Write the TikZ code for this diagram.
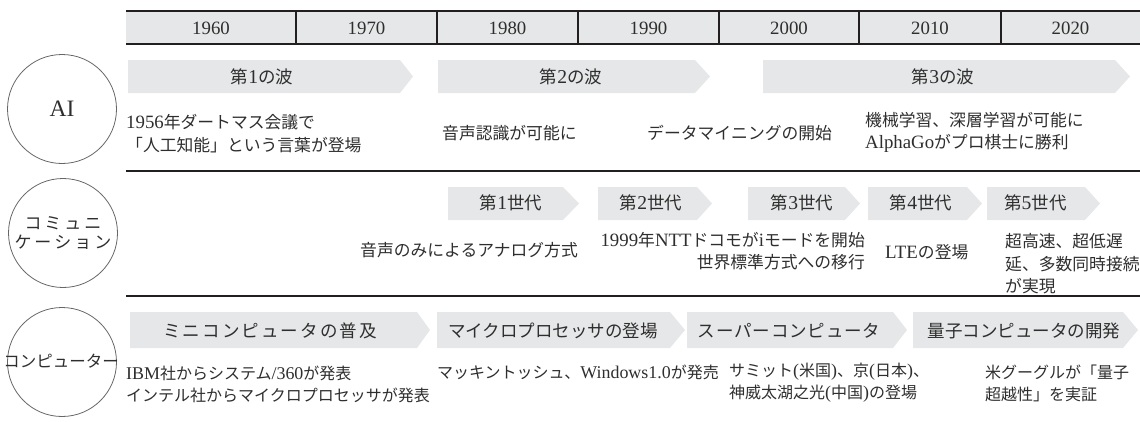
\documentclass[tikz,border=0pt]{standalone}
\usepackage{fontspec}
\setmainfont{Noto Sans CJK JP}
\newfontfamily\latf{Liberation Serif}[Scale=1.12]
\newcommand\lt[1]{{\latf #1}}
\definecolor{band}{HTML}{E6E7E8}
\definecolor{ink}{HTML}{2E2E2E}
\definecolor{rulec}{HTML}{231F20}
\newcommand\sig[5]{\fill[band] (#1,#4) -- (#2,#4) -- (#3,{(#4+#5)/2}) -- (#2,#5) -- (#1,#5) -- cycle;}
\newcommand\kk{\kern3pt}
\newcommand\ks{\kern2.1pt}
\begin{document}
\begin{tikzpicture}[x=1pt,y=-1pt,
  every node/.style={inner sep=0pt, text=ink},
  body/.style={font=\fontsize{16.8}{22.5}\selectfont, align=left},
  bodyc/.style={font=\fontsize{16}{22}\selectfont, align=left},
  lab/.style={font=\fontsize{17.5}{21}\selectfont},
  year/.style={font=\latf\fontsize{16.8}{20}\selectfont},
  circ/.style={circle, draw=black!60, line width=0.8pt, minimum size=109pt},
  thick rule/.style={draw=rulec, line width=2pt},
  thin rule/.style={draw=rulec, line width=1.4pt}]
\useasboundingbox (0,0) rectangle (1140,421);
% header band
\fill[band] (126,11) rectangle (1140,44);
\path[thick rule] (126,11) -- (1140,11);
\path[thick rule] (126,44) -- (1140,44);
\foreach \x in {296,437,578,719,859,1001} \path[thin rule] (\x,11) -- (\x,44);
\foreach \x/\t [count=\i] in {211/1960,366.5/1970,507.5/1980,648.5/1990,789/2000,930/2010,1070.5/2020}
  \node[year] (yr\i) at (\x,28) {\t};
% row separators
\path[thick rule] (126,171) -- (1140,171);
\path[thick rule] (126,296) -- (1140,296);
% circles
\node[circ] (ai) at (62,109) {};
\node[circ] (com) at (63,233) {};
\node[circ] (cmp) at (62,362) {};
\node[font=\latf\fontsize{21}{24}\selectfont] (aiT) at (ai.center) {AI};
\node[font=\fontsize{17}{19}\selectfont, align=center] (comT) at (com.center)
  {コ\kk ミ\kk ュ\kk ニ\\ケ\kk ー\kk シ\kk ョ\kk ン};
\node[font=\fontsize{16.5}{20}\selectfont] (cmpT) at (61,361) {コンピューター};
% AI arrows
\sig{128}{400}{413}{60}{93}
\sig{438}{695}{710}{60}{93}
\sig{763}{1115}{1130}{60}{93}
\node[lab] (w1) at (262,77) {第\lt{1}の波};
\node[lab] (w2) at (571,77) {第\lt{2}の波};
\node[lab] (w3) at (943,77) {第\lt{3}の波};
% communication arrows
\sig{448}{563}{579}{187}{220}
\sig{598}{697}{712}{187}{220}
\sig{748}{845}{860}{187}{220}
\sig{868}{967}{982}{187}{220}
\sig{987}{1085}{1100}{187}{220}
\node[lab] (g1) at (511,203) {第\lt{1}世代};
\node[lab] (g2) at (651,203) {第\lt{2}世代};
\node[lab] (g3) at (802,203) {第\lt{3}世代};
\node[lab] (g4) at (921,203) {第\lt{4}世代};
\node[lab, anchor=west] (g5) at (1004,203) {第\lt{5}世代};
% computer arrows
\sig{130}{417}{430}{312}{348}
\sig{437}{670}{685}{312}{348}
\sig{687}{893}{907}{312}{348}
\sig{913}{1123}{1138}{312}{348}
\node[lab] (k1) at (270,331) {ミ\ks ニ\ks コ\ks ン\ks ピ\ks ュ\ks ー\ks タ\ks の\ks 普\ks 及};
\node[lab] (k2) at (553,331) {マイクロプロセッサの登場};
\node[lab] (k3) at (789,331) {ス\kern0.8pt ー\kern0.8pt パ\kern0.8pt ー\kern0.8pt コ\kern0.8pt ン\kern0.8pt ピ\kern0.8pt ュ\kern0.8pt ー\kern0.8pt タ};
\node[lab] (k4) at (1024,331) {量子コンピュータの開発};
% AI texts
\node[body, anchor=west] (a1) at (126,133.5) {\lt{1956}年ダートマス会議で\\「人工知能」という言葉が登場};
\node[body, anchor=west] (a2) at (442,133) {音声認識が可能に};
\node[body, anchor=west] (a3) at (647,133) {データマイニングの開始};
\node[body, anchor=west] (a4) at (865,132.5) {機械学習、深層学習が可能に\\\lt{AlphaGo}がプロ棋士に勝利};
% communication texts
\node[body, anchor=east] (c1) at (578,250) {音声のみによるアナログ方式};
\node[body, align=right, anchor=east] (c2) at (865,251) {\lt{1999}年\lt{NTT}ドコモが\lt{i}モードを開始\\世界標準方式への移行};
\node[body, anchor=west] (c3) at (885,252) {\lt{LTE}の登場};
\node[body, anchor=west] (c4) at (1005,264) {超高速、超低遅\\延、多数同時接続\\が実現};
% computer texts
\node[bodyc, anchor=west] (p1) at (126,384) {\lt{IBM}社からシステム\lt{/360}が発表\\インテル社からマイクロプロセッサが発表};
\node[bodyc, anchor=west] (p2) at (437,372) {マッキントッシュ、\lt{Windows1.0}が発売};
\node[bodyc, anchor=west] (p3) at (729,383) {サミット\lt{(}米国\lt{)}、京\lt{(}日本\lt{)}、\\神威太湖之光\lt{(}中国\lt{)}の登場};
\node[bodyc, anchor=west] (p4) at (985,383) {米グーグルが「量子\\超越性」を実証};
\end{tikzpicture}
\end{document}
